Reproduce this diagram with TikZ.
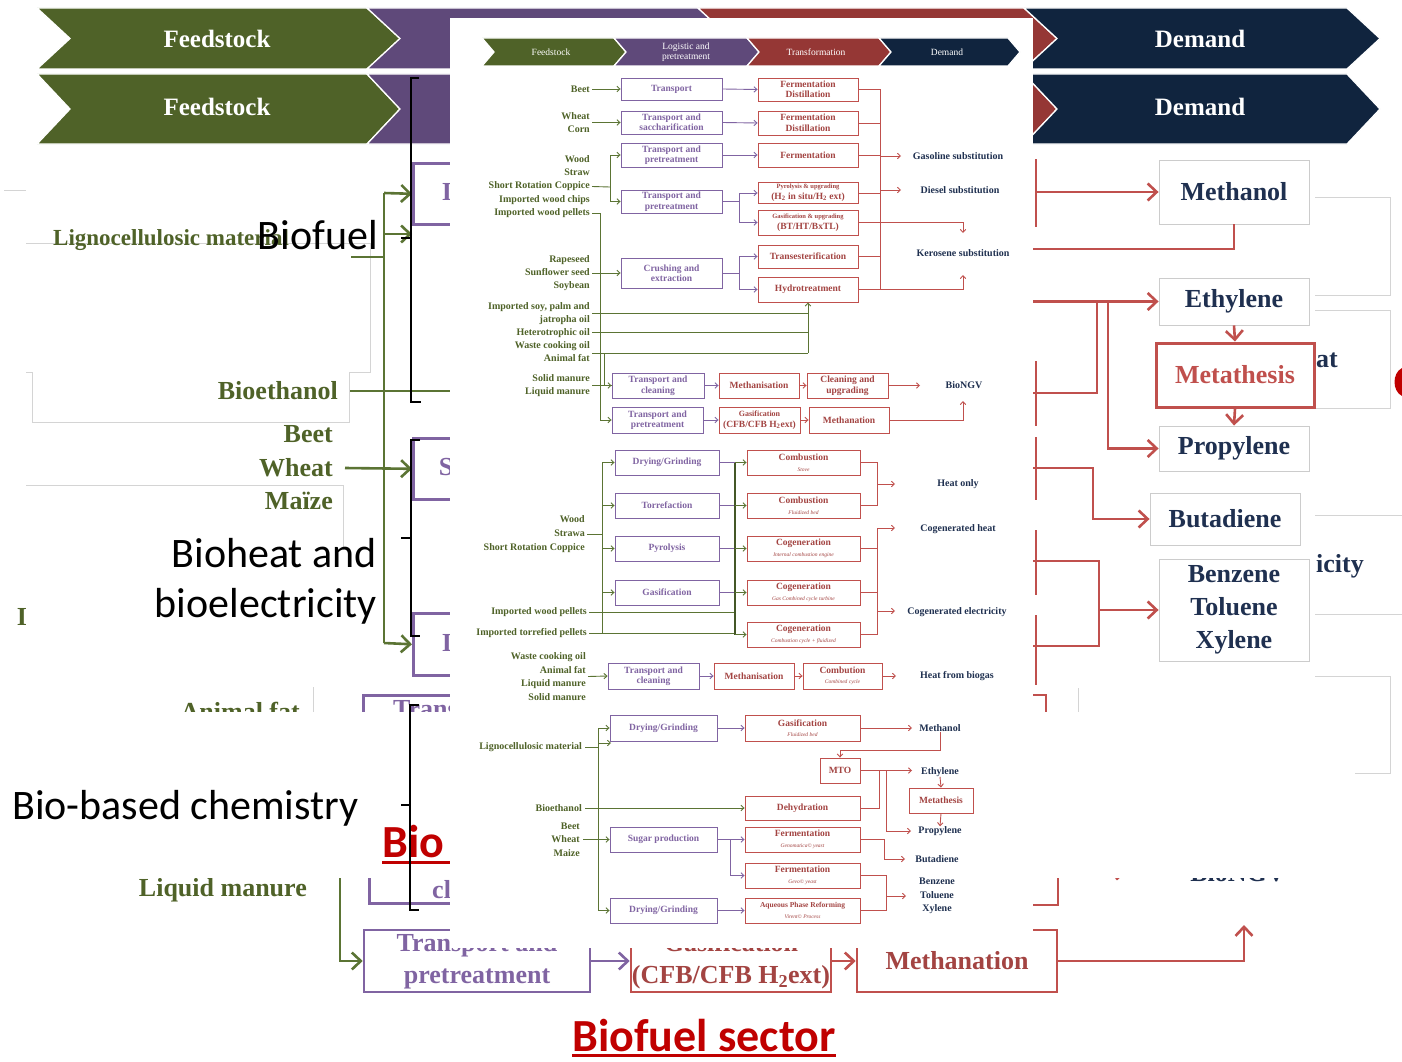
\documentclass[tikz,border=0pt]{standalone}
\usepackage{fontspec}
\setmainfont{Liberation Serif}
\newfontfamily\calfont{Carlito}
\usetikzlibrary{arrows.meta}
\definecolor{cgreen}{HTML}{4F6228}
\definecolor{cpurple}{HTML}{5F497A}
\definecolor{cred}{HTML}{953735}
\definecolor{cnavy}{HTML}{10243E}
\definecolor{lgreen}{HTML}{5B7434}
\definecolor{lpur}{HTML}{8064A2}
\definecolor{lred}{HTML}{C0504D}
\definecolor{tnavy}{HTML}{1F3050}
\definecolor{tgreen}{HTML}{4F6228}
\definecolor{bred}{HTML}{C00000}
\definecolor{gline}{HTML}{D4D4D4}
\newcommand\bigsf{\fontsize{26}{32}\selectfont\bfseries}
\newcommand\bigch{\fontsize{25}{28}\selectfont\bfseries}
\newcommand\slb{\fontsize{10}{13.2}\selectfont\bfseries}
\newcommand\sbx{\fontsize{9.5}{10.5}\selectfont\bfseries}
\newcommand\ssub{\fontsize{5.5}{6.5}\selectfont\mdseries\itshape}
\newcommand\chev[7]{\filldraw[fill=#7,draw=white,line width=1.3pt] (#1,#3) -- (#2,#3) -- (#2+#6,#4) -- (#2,#5) -- (#1,#5) -- (#1+#6,#4) -- cycle;}
\begin{document}
\begin{tikzpicture}[x=1pt,y=-1pt,
 gl/.style={draw=lgreen,line width=2.6pt},
 pl/.style={draw=lpur,line width=2.6pt},
 rl/.style={draw=lred,line width=2.6pt},
 sgl/.style={draw=lgreen,line width=0.9pt},
 spl/.style={draw=lpur,line width=0.9pt},
 srl/.style={draw=lred,line width=0.9pt},
 bar/.style={-{Straight Barb[length=9pt,width=17pt]}},
 sar/.style={-{Straight Barb[length=3pt,width=5.5pt]}},
 gln/.style={draw=gline,line width=0.8pt},
 bw/.style={minimum width=#1pt},
 bh/.style={minimum height=#1pt},
 bigw/.style={inner sep=0pt,text=white,font=\bigch,align=center},
 gtxt/.style={inner sep=0pt,text=tgreen,font=\bigsf},
 ptxt/.style={inner sep=0pt,text=lpur,font=\bigsf},
 dtxt/.style={inner sep=0pt,text=tnavy,font=\bigsf},
 lbox/.style={draw=lpur,line width=2.6pt,fill=white,inner sep=0pt},
 bpbox/.style={draw=lpur,line width=2.6pt,fill=white,inner sep=0pt,align=center,text=lpur,font=\bigsf},
 brbox/.style={draw=lred,line width=2.6pt,fill=white,inner sep=0pt,align=center,text=lred!85!black,font=\bigsf},
 dbox/.style={draw=gray!40,line width=0.9pt,fill=white,inner sep=0pt,align=center,text=tnavy,font=\bigsf},
 blk/.style={inner sep=0pt,text=black,font=\calfont\fontsize{42}{50}\selectfont},
 brk/.style={draw=black,line width=2.6pt},
 smw/.style={inner sep=0pt,text=white,align=center,font=\fontsize{9.5}{10}\selectfont},
 spb/.style={draw=lpur,line width=0.9pt,fill=white,inner sep=0pt,align=center,text=lpur,font=\sbx},
 srb/.style={draw=lred,line width=0.9pt,fill=white,inner sep=0pt,align=center,text=lred!85!black,font=\sbx},
 slab/.style={inner sep=0pt,text=tgreen,font=\slb,align=right,anchor=east},
 sdem/.style={inner sep=0pt,text=tnavy,font=\slb,align=center},
]
\useasboundingbox (0,0) rectangle (1402,1062);
\fill[white] (0,0) rectangle (1402,1062);

% ---------- big chevron rows ----------
\chev{37}{367}{8}{38.5}{69}{33}{cgreen}
\chev{367}{698}{8}{38.5}{69}{33}{cpurple}
\chev{698}{1024}{8}{38.5}{69}{33}{cred}
\chev{1024}{1347}{8}{38.5}{69}{33}{cnavy}
\chev{37}{367}{74}{109}{144}{33}{cgreen}
\chev{367}{698}{74}{109}{144}{33}{cpurple}
\chev{698}{1024}{74}{109}{144}{33}{cred}
\chev{1024}{1347}{74}{109}{144}{33}{cnavy}
\node[bigw] (cf1) at (217,39) {Feedstock};
\node[bigw] (cd1) at (1200,39) {Demand};
\node[bigw] (cf2) at (217,107) {Feedstock};
\node[bigw] (cd2) at (1200,107) {Demand};

% ---------- faint grey outlines ----------
\draw[gln] (4,190) -- (26,190);
\draw[gln] (26,243) -- (370,243) -- (370,372) -- (349,372) -- (349,422) -- (32,422) -- (32,372) -- (26,372);
\draw[gln] (26,485) -- (343,485) -- (343,550);
\draw[gln] (313,687) -- (313,712);
\draw[gln] (1315,197) -- (1390,197) -- (1390,295) -- (1315,295);
\draw[gln] (1315,310) -- (1390,310) -- (1390,408) -- (1315,408);
\draw[gln] (1315,515) -- (1402,515);
\draw[gln] (1315,614) -- (1402,614);

% ---------- left background ----------
\node[gtxt,anchor=west,font=\fontsize{23}{28}\selectfont\bfseries] (lligno) at (53,240) {Lignocellulosic material};
\node[gtxt,anchor=east] (lbioeth) at (338,391) {Bioethanol};
\node[gtxt,anchor=east] (lbeet) at (333,434) {Beet};
\node[gtxt,anchor=east] (lwheat) at (333,468) {Wheat};
\node[gtxt,anchor=east] (lmaize) at (333,501) {Maïze};
\node[gtxt] (li) at (22,617) {I};
\node[gtxt,anchor=east] (lafat) at (300,711) {Animal fat};
\node[gtxt,anchor=east] (lliq) at (307,890) {Liquid manure};

\node[lbox,bw=200,bh=61,anchor=north west] (pb1) at (412,162) {};
\node[lbox,bw=200,bh=61,anchor=north west] (pb2) at (412,437) {};
\node[lbox,bw=200,bh=62,anchor=north west] (pb3) at (412,612) {};
\node[lbox,bw=200,bh=80,anchor=north west] (pb4) at (362,694) {};
\node[lbox,bw=200,bh=60,anchor=south west] (pb5) at (368,905) {};
\node[ptxt] (pt1) at (447,192) {I};
\node[ptxt] (pt2) at (446,467) {S};
\node[ptxt] (pt3) at (447,643) {I};
\node[ptxt,anchor=west] (pt4) at (393,709) {Trans};
\node[ptxt,anchor=west] (pt5) at (432,890) {cl};

\coordinate (gv1) at (384,193);
\coordinate (gv2) at (384,643);
\coordinate (gv3) at (384,257);
\coordinate (gl0) at (351,257);
\coordinate (ga2) at (412,234);
\coordinate (gbe) at (470,391);
\draw[gl] (gv1) -- (gv2);
\draw[gl,bar] (gv1) -- (pb1.west);
\draw[gl,bar] (gv1 |- ga2) -- (ga2);
\draw[gl] (gl0) -- (gv3);
\draw[gl] ([xshift=12pt]lbioeth.east) -- (gbe);
\draw[gl,bar] ([xshift=12pt]lwheat.east) -- (pb2.west);
\draw[gl,bar] (gv2) -- (pb3.west);

% ---------- bottom background row ----------
\node[bpbox,bw=226,bh=62] (btp) at (477,961) {Transport and\\pretreatment};
\node[brbox,bw=200,bh=62] (bga) at (731,961) {Gasification\\(CFB/CFB H\textsubscript{2}ext)};
\node[brbox,bw=200,bh=62] (bme) at (957,961) {Methanation};
\coordinate (bup) at (1244,925);
\coordinate (gb0) at (340,850);
\draw[pl,bar] (btp.east) -- (bga.west);
\draw[rl,bar] (bga.east) -- (bme.west);
\draw[rl,bar] (bme.east) -| (bup);
\draw[gl,bar] (gb0) |- (btp.west);

% ---------- right background ----------
\coordinate (r1a) at (1036,159); \coordinate (r1b) at (1036,227);
\coordinate (r2a) at (1036,361); \coordinate (r2b) at (1036,426);
\coordinate (r3a) at (1036,437); \coordinate (r3b) at (1036,500);
\coordinate (r4a) at (1036,530); \coordinate (r4b) at (1036,595);
\coordinate (r5a) at (1036,615); \coordinate (r5b) at (1036,685);
\draw[rl] (r1a) -- (r1b);
\draw[rl] (r2a) -- (r2b);
\draw[rl] (r3a) -- (r3b);
\draw[rl] (r4a) -- (r4b);
\draw[rl] (r5a) -- (r5b);
\node[dbox,bw=150,bh=64] (dmeth) at (1234,192) {Methanol};
\node[dbox,bw=150,bh=47] (deth) at (1234,301.5) {Ethylene};
\node[dbox,bw=150,bh=45] (dprop) at (1234,448.5) {Propylene};
\node[dbox,bw=150,bh=52] (dbut) at (1225,519) {Butadiene};
\node[dbox,bw=150,bh=102,font=\fontsize{26}{33}\selectfont\bfseries] (dbtx) at (1234,610) {Benzene\\Toluene\\Xylene};
\node[draw=lred,line width=3pt,fill=white,inner sep=0pt,bw=158,bh=64,text=lred,font=\bigsf] (dmet) at (1235,375) {Metathesis};
\node[dtxt,anchor=west] (dheat) at (1316,360) {at};
\node[dtxt,anchor=west] (delec) at (1316,566) {icity};
\coordinate (rm) at (1036,192);
\coordinate (rml) at (1033,249);
\coordinate (re) at (1033,301.5);
\coordinate (rd) at (1033,393);
\coordinate (rj1) at (1097,301.5);
\coordinate (rj2) at (1108,301.5);
\coordinate (rb) at (1033,468);
\coordinate (rbk) at (1093,468);
\coordinate (rx1) at (1033,561);
\coordinate (rx2) at (1033,646);
\coordinate (rx3) at (1099,646);
\coordinate (rxk) at (1099,610);
\draw[rl,bar] (rm) -- (dmeth.west);
\draw[rl] (dmeth.south) |- (rml);
\draw[rl,bar] (re) -- (deth.west);
\draw[rl] (rd) -| (rj1);
\draw[rl,bar] (rj2) |- (dprop.west);
\draw[rl,bar] (deth.south) -- (dmet.north);
\draw[rl,bar] (dmet.south) -- (dprop.north);
\draw[rl,bar] (rb) -- (rbk) |- (dbut.west);
\draw[rl] (rx1) -| (rx3) -- (rx2);
\draw[rl,bar] (rxk) -- (dbtx.west);
\fill[bred] (1402,368) .. controls (1392,373) and (1392,391) .. (1402,396) -- cycle;
% lower right fragments
\coordinate (rq1) at (1000,695); \coordinate (rq2) at (1046,740);
\coordinate (rq3) at (1058,850); \coordinate (rq4) at (1000,905);
\draw[rl] (rq1) -| (rq2);
\draw[rl] (rq3) |- (rq4);
\node[dtxt] (dngvb) at (1238,873) {BioNGV};
\coordinate (ra1) at (1070,871); \coordinate (ra2) at (1127,871);
\draw[rl,bar] (ra1) -- (ra2);

% ---------- white band ----------
\fill[white] (0,712) rectangle (1402,878);
\draw[gln] (1078,688) -- (1078,712);
\draw[gln] (1315,676) -- (1390,676) -- (1390,773) -- (1355,773);

% ---------- "Biofuel sector" ----------
\node[inner sep=0pt,text=bred,font=\calfont\fontsize{46}{50}\selectfont\bfseries] (bsec) at (704,1036) {Biofuel sector};
\draw[draw=bred,line width=3pt] ([yshift=-4pt]bsec.base west) -- ([yshift=-4pt]bsec.base east);
\node[inner sep=0pt,anchor=base west,text=bred,font=\calfont\fontsize{46}{50}\selectfont\bfseries] (lbio) at (382,857) {Bio};
\coordinate (biou) at (460,862);
\draw[draw=bred,line width=3pt] ([yshift=-5pt]lbio.base west) -- (biou);

% ---------- black labels and brackets ----------
\node[blk,anchor=east] (lbiofuel) at (378,235) {Biofuel};
\node[blk,anchor=east,align=right] (lbioheat) at (377,581) {Bioheat and\\bioelectricity};
\node[blk,anchor=west] (lbiochem) at (12,808) {Bio-based chemistry};
\draw[brk] (419,78) -- (411,78) -- (411,402) -- (421,402);
\draw[brk] (411,238) -- (401,238);
\draw[brk] (420,440) -- (411,440) -- (411,636) -- (420,636);
\draw[brk] (411,538) -- (401,538);
\draw[brk] (419,705) -- (410,705) -- (410,910) -- (419,910);
\draw[brk] (410,805) -- (401,805);

% =================== central panel ===================
\fill[white] (450,18) rectangle (1033,948);
\chev{482}{614}{38}{52}{66}{12}{cgreen}
\chev{614}{747}{38}{52}{66}{12}{cpurple}
\chev{747}{879}{38}{52}{66}{12}{cred}
\chev{879}{1008}{38}{52}{66}{12}{cnavy}
\node[smw] (sc1) at (551,52) {Feedstock};
\node[smw] (sc2) at (686,52) {Logistic and\\pretreatment};
\node[smw] (sc3) at (816,52) {Transformation};
\node[smw] (sc4) at (947,52) {Demand};

% --- biofuel: labels
\node[slab] (lbeet2) at (590,89) {Beet};
\node[slab] (lwc) at (590,122.5) {Wheat\\Corn};
\node[slab] (lwood) at (590,186.5) {Wood\\Straw\\Short Rotation Coppice\\Imported wood chips\\Imported wood pellets};
\node[slab] (lrape) at (590,273) {Rapeseed\\Sunflower seed\\Soybean};
\node[slab,font=\fontsize{10}{13}\selectfont\bfseries] (loil) at (590,332) {Imported soy, palm and\\jatropha oil\\Heterotrophic oil\\Waste cooking oil\\Animal fat};
\node[slab] (lman) at (590,385.5) {Solid manure\\Liquid manure};
% --- biofuel: boxes
\node[spb,bw=101,bh=22] (t1) at (671.5,89) {Transport};
\node[spb,bw=101,bh=23] (t2) at (671.5,122.5) {Transport and\\saccharification};
\node[spb,bw=101,bh=24] (t3) at (671.5,155) {Transport and\\pretreatment};
\node[spb,bw=101,bh=23] (t4) at (671.5,201.5) {Transport and\\pretreatment};
\node[spb,bw=101,bh=30] (ce) at (671.5,273) {Crushing and\\extraction};
\node[srb,bw=100,bh=23] (f1) at (808,89.5) {Fermentation\\Distillation};
\node[srb,bw=100,bh=24] (f2) at (808,123) {Fermentation\\Distillation};
\node[srb,bw=100,bh=24] (f3) at (808,155) {Fermentation};
\node[srb,bw=100,bh=21] (py) at (808,193) {{\fontsize{6.5}{7}\selectfont Pyrolysis \& upgrading}\\(H\textsubscript{2} in situ/H\textsubscript{2} ext)};
\node[srb,bw=100,bh=25] (gu) at (808,222.5) {{\fontsize{6.5}{7}\selectfont Gasification \& upgrading}\\(BT/HT/BxTL)};
\node[srb,bw=100,bh=23] (te) at (808,256.5) {Transesterification};
\node[srb,bw=100,bh=25] (ht) at (808,289.5) {Hydrotreatment};
\node[spb,bw=92,bh=25] (tc) at (658,385.5) {Transport and\\cleaning};
\node[srb,bw=80,bh=25] (mes) at (759,385.5) {Methanisation};
\node[srb,bw=81,bh=25] (cu) at (847.5,385.5) {Cleaning and\\upgrading};
\node[spb,bw=91,bh=26] (tp) at (657.5,420) {Transport and\\pretreatment};
\node[srb,bw=81,bh=26] (ga) at (759.5,420) {{\fontsize{8}{9}\selectfont Gasification}\\(CFB/CFB H\textsubscript{2}ext)};
\node[srb,bw=80,bh=26] (ma) at (849,420) {Methanation};
% --- biofuel: demand
\node[sdem] (dgas) at (958,156) {Gasoline substitution};
\node[sdem] (ddie) at (960,190) {Diesel substitution};
\node[sdem] (dker) at (963,253) {Kerosene substitution};
\node[sdem] (dngv) at (964,385.5) {BioNGV};
% --- biofuel: connectors
\coordinate (gw) at (610,187);
\coordinate (lwp) at (592,213);
\coordinate (gb1) at (600,213);
\coordinate (o1) at (592,313);
\coordinate (o2) at (592,332);
\coordinate (o3) at (592,353);
\coordinate (ov) at (808,353);
\coordinate (mj) at (604,353);
\draw[sgl,sar] ([xshift=2pt]lbeet2.east) -- (t1.west);
\draw[sgl,sar] ([xshift=2pt]lwc.east) -- (t2.west);
\draw[sgl] ([xshift=2pt]lwood.east) -- (gw);
\draw[sgl,sar] (gw) |- (t3.west);
\draw[sgl,sar] (gw) |- (t4.west);
\draw[sgl,sar] ([xshift=2pt]lrape.east) -- (ce.west);
\draw[sgl] (lwp) -- (gb1);
\draw[sgl,sar] (gb1) |- (tp.west);
\draw[sgl] (o1) -- (o1 -| ov);
\draw[sgl] (o2) -- (o2 -| ov);
\draw[sgl] (o3) -- (ov);
\draw[sgl,sar] (ov) -- (ht.south);
\draw[sgl,sar] (mj) |- (tc.west);
\draw[sgl] ([xshift=2pt]lman.east) -- (tc.west);
\draw[spl,sar] (t1.east) -- (f1.west);
\draw[spl,sar] (t2.east) -- (f2.west);
\draw[spl,sar] (t3.east) -- (f3.west);
\coordinate (pk1) at (739,201.5);
\coordinate (pk2) at (739,273);
\draw[spl] (t4.east) -- (pk1);
\draw[spl,sar] (pk1) |- (py.west);
\draw[spl,sar] (pk1) |- (gu.west);
\draw[spl] (ce.east) -- (pk2);
\draw[spl,sar] (pk2) |- (te.west);
\draw[spl,sar] (pk2) |- (ht.west);
\draw[spl,sar] (tc.east) -- (mes.west);
\draw[spl,sar] (tp.east) -- (ga.west);
\coordinate (rc1) at (880,89.5);
\coordinate (rc2) at (880,289.5);
\coordinate (kr1) at (963,233);
\coordinate (kr2) at (963,275);
\coordinate (gsa) at (901,156);
\coordinate (dsa) at (901,190);
\coordinate (nga) at (920,385.5);
\coordinate (ngb) at (963,401);
\draw[srl] (f1.east) -- (rc1) -- (rc2);
\draw[srl] (f2.east) -- (f2.east -| rc1);
\draw[srl] (f3.east) -- (f3.east -| rc1);
\draw[srl] (py.east) -- (py.east -| rc1);
\draw[srl] (te.east) -- (te.east -| rc1);
\draw[srl,sar] (ht.east) -| (kr2);
\draw[srl,sar] (gu.east) -| (kr1);
\draw[srl,sar] (gsa -| rc1) -- (gsa);
\draw[srl,sar] (dsa -| rc1) -- (dsa);
\draw[srl,sar] (mes.east) -- (cu.west);
\draw[srl,sar] (cu.east) -- (nga);
\draw[srl,sar] (ga.east) -- (ma.west);
\draw[srl,sar] (ma.east) -| (ngb);

% --- bioheat
\node[slab,font=\fontsize{10}{14}\selectfont\bfseries] (lwood2) at (585,534) {Wood\\Strawa\\Short Rotation Coppice};
\node[slab] (limp) at (587,612) {Imported wood pellets};
\node[slab] (ltor) at (587,633) {Imported torrefied pellets};
\node[slab,font=\fontsize{10}{13.6}\selectfont\bfseries] (lbg) at (586,676.5) {Waste cooking oil\\Animal fat\\Liquid manure\\Solid manure};
\node[spb,bw=104,bh=25] (dg1) at (667,462.5) {Drying/Grinding};
\node[spb,bw=104,bh=25] (tor) at (667,505.5) {Torrefaction};
\node[spb,bw=104,bh=25] (pyr) at (667,548.5) {Pyrolysis};
\node[spb,bw=104,bh=25] (gsf) at (667,592.5) {Gasification};
\node[srb,bw=113,bh=25] (cs) at (803.5,462.5) {Combustion\\{\ssub Stove}};
\node[srb,bw=113,bh=25] (cf) at (803.5,505.5) {Combustion\\{\ssub Fluidized bed}};
\node[srb,bw=113,bh=25] (ci) at (803.5,548.5) {Cogeneration\\{\ssub Internal combustion engine}};
\node[srb,bw=113,bh=25] (cg) at (803.5,592.5) {Cogeneration\\{\ssub Gas Combined cycle turbine}};
\node[srb,bw=113,bh=25] (cc) at (803.5,634.5) {Cogeneration\\{\ssub Combustion cycle + fluidized}};
\node[spb,bw=91,bh=26] (tc2) at (653.5,676) {Transport and\\cleaning};
\node[srb,bw=80,bh=26] (me2) at (754,676) {Methanisation};
\node[srb,bw=79,bh=26] (cb) at (842.5,676) {Combution\\{\ssub Combined cycle}};
\node[sdem] (dho) at (958,484) {Heat only};
\node[sdem] (dch) at (958,529) {Cogenerated heat};
\node[sdem] (dce) at (957,612) {Cogenerated electricity};
\node[sdem] (dhb) at (957,676) {Heat from biogas};
\coordinate (hw) at (602,534);
\coordinate (hvt) at (602,462.5);
\coordinate (hvb) at (602,633);
\coordinate (hbt) at (735,462.5);
\coordinate (hbb) at (735,634.5);
\draw[sgl] ([xshift=2pt]lwood2.east) -- (hw);
\draw[sgl] (hvt) -- (hvb);
\draw[sgl,sar] (hvt) -- (dg1.west);
\draw[sgl,sar] (hvt |- tor.west) -- (tor.west);
\draw[sgl,sar] (hvt |- pyr.west) -- (pyr.west);
\draw[sgl,sar] (hvt |- gsf.west) -- (gsf.west);
\draw[sgl] ([xshift=2pt]limp.east) -- (limp.east -| hbt);
\draw[sgl] ([xshift=2pt]ltor.east) -- (ltor.east -| hbt);
\draw[spl] (dg1.east) -- (dg1.east -| hbt);
\draw[spl] (tor.east) -- (tor.east -| hbt);
\draw[spl] (pyr.east) -- (pyr.east -| hbt);
\draw[spl] (gsf.east) -- (gsf.east -| hbt);
\draw[draw=lgreen!75!black,line width=2.2pt] (hbt) -- (hbb);
\draw[sgl,sar] (hbt) -- (cs.west);
\draw[sgl,sar] (hbt |- cf.west) -- (cf.west);
\draw[sgl,sar] (hbt |- ci.west) -- (ci.west);
\draw[sgl,sar] (hbt |- cg.west) -- (cg.west);
\draw[sgl,sar] (hbb) -- (cc.west);
\coordinate (ho) at (877,484);
\coordinate (hoa) at (895,484);
\coordinate (cgt) at (877,528);
\coordinate (cgb) at (877,634.5);
\coordinate (cha) at (895,528);
\coordinate (cea0) at (877,611);
\coordinate (cea) at (895,611);
\coordinate (hba) at (896,676);
\draw[srl] (cs.east) -| (ho);
\draw[srl] (cf.east) -| (ho);
\draw[srl,sar] (ho) -- (hoa);
\draw[srl] (cgt) -- (cgb);
\draw[srl] (ci.east) -- (ci.east -| cgt);
\draw[srl] (cg.east) -- (cg.east -| cgt);
\draw[srl] (cc.east) -- (cgb);
\draw[srl,sar] (cgt) -- (cha);
\draw[srl,sar] (cea0) -- (cea);
\draw[sgl,sar] ([xshift=2pt]lbg.east) -- (tc2.west);
\draw[spl,sar] (tc2.east) -- (me2.west);
\draw[srl,sar] (me2.east) -- (cb.west);
\draw[srl,sar] (cb.east) -- (hba);

% --- bio-based chemistry
\node[slab] (lligno2) at (582,747) {Lignocellulosic material};
\node[slab] (lbioeth2) at (582,808) {Bioethanol};
\node[slab,font=\fontsize{10}{13.5}\selectfont\bfseries] (lbwm) at (580,839.5) {Beet\\Wheat\\Maize};
\node[spb,bw=107,bh=26] (dg2) at (663.5,728) {Drying/Grinding};
\node[srb,bw=115,bh=26] (gf) at (802.5,728) {Gasification\\{\ssub Fluidized bed}};
\node[srb,bw=40,bh=25] (mto) at (840,770.5) {MTO};
\node[srb,bw=64,bh=25] (mts) at (941,800.5) {Metathesis};
\node[srb,bw=115,bh=24] (dh) at (802.5,808) {Dehydration};
\node[spb,bw=107,bh=25] (sgp) at (663.5,839.5) {Sugar production};
\node[srb,bw=115,bh=25] (fg) at (802.5,839.5) {Fermentation\\{\ssub Genomatica\textcopyright{} yeast}};
\node[srb,bw=115,bh=25] (fv) at (802.5,875.5) {Fermentation\\{\ssub Gevo\textcopyright{} yeast}};
\node[spb,bw=107,bh=25] (dg3) at (663.5,910.5) {Drying/Grinding};
\node[srb,bw=115,bh=25] (ap) at (802.5,910.5) {{\fontsize{7.5}{8}\selectfont Aqueous Phase Reforming}\\{\ssub Virent\textcopyright{} Process}};
\node[sdem] (dmeoh) at (940,728) {Methanol};
\node[sdem] (dethy) at (940,772) {Ethylene};
\node[sdem] (dpropy) at (940,831) {Propylene};
\node[sdem] (dbuta) at (937,859) {Butadiene};
\node[sdem,font=\fontsize{10}{13.5}\selectfont\bfseries] (dbtx2) at (937,896) {Benzene\\Toluene\\Xylene};
\coordinate (bvt) at (598,728);
\coordinate (bvb) at (598,910.5);
\coordinate (bst) at (611,743);
\draw[sgl] (bvt) -- (bvb);
\draw[sgl] ([xshift=3pt]lligno2.east) -- (lligno2.east -| bvt);
\draw[sgl,sar] (bvt) -- (dg2.west);
\draw[sgl,sar] (bvt |- bst) -- (bst);
\draw[sgl,sar] (bvb) -- (dg3.west);
\draw[sgl,sar] ([xshift=3pt]lbioeth2.east) -- (dh.west);
\draw[sgl,sar] ([xshift=3pt]lbwm.east) -- (sgp.west);
\draw[spl,sar] (dg2.east) -- (gf.west);
\draw[spl,sar] (dg3.east) -- (ap.west);
\coordinate (mea) at (912,728);
\coordinate (mt1) at (940,750);
\coordinate (eta) at (912,770.5);
\coordinate (ek1) at (879,770.5);
\coordinate (ek2) at (886,770.5);
\coordinate (pra) at (911,831);
\coordinate (sk) at (730,839.5);
\coordinate (bk) at (884,839.5);
\coordinate (bua) at (905,859);
\coordinate (xk1) at (886,875.5);
\coordinate (xk2) at (886,910.5);
\coordinate (xa) at (886,896);
\coordinate (xb) at (906,896);
\draw[srl,sar] (gf.east) -- (mea);
\draw[srl,sar] (dmeoh.south) -- (mt1) -| (mto.north);
\draw[srl,sar] (mto.east) -- (eta);
\draw[srl] (ek1) |- (dh.east);
\draw[srl,sar] (ek2) |- (pra);
\draw[srl,sar] (dethy.south) -- (mts.north);
\draw[srl,sar] (mts.south) -- (dpropy.north);
\draw[spl] (sgp.east) -- (sk);
\draw[spl,sar] (sk) -- (fg.west);
\draw[spl,sar] (sk) |- (fv.west);
\draw[srl,sar] (fg.east) -- (bk) |- (bua);
\draw[srl] (fv.east) -- (xk1) -- (xk2) -- (ap.east);
\draw[srl,sar] (xa) -- (xb);
\end{tikzpicture}
\end{document}
